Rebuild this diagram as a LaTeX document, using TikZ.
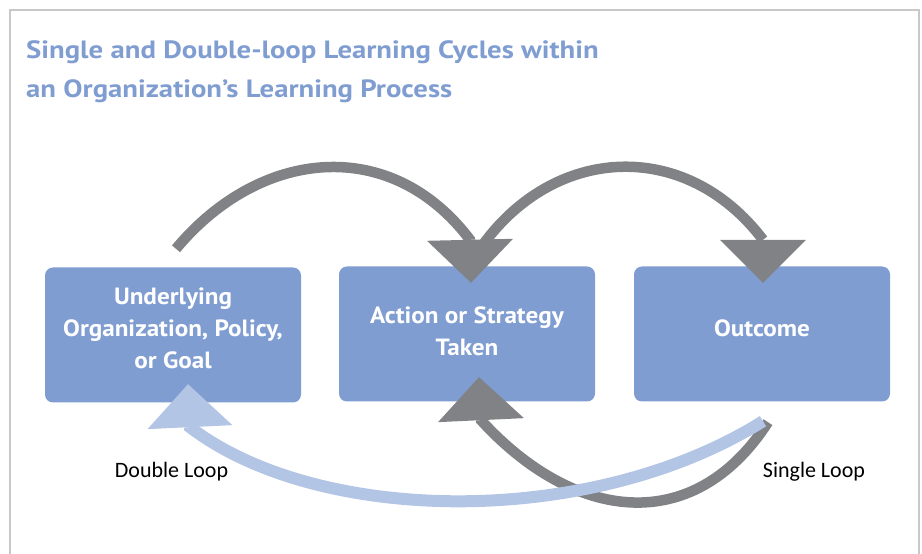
\documentclass[tikz,border=0pt]{standalone}
\usepackage{fontspec}
\setmainfont{PT Sans}
\newfontfamily\titlefont{PT Sans}[FakeStretch=1.15]
\newfontfamily\boxfont{PT Sans}[FakeStretch=1.07]
\newfontfamily\lblfont{Carlito}
\usepackage{tikz}
\usetikzlibrary{arrows.meta,calc}
\definecolor{boxblue}{RGB}{127,157,209}
\definecolor{titleblue}{RGB}{127,157,209}
\definecolor{loopgray}{RGB}{128,130,133}
\definecolor{loopblue}{RGB}{179,197,228}
\definecolor{framegray}{RGB}{200,200,200}
\newcommand{\lift}[1]{\rule[-#1]{0pt}{#1}}

\begin{document}
\begin{tikzpicture}[x=1pt,y=1pt,
    box/.style={fill=boxblue,rounded corners=8pt,minimum width=256pt,minimum height=135pt,inner sep=0pt,align=center,text=white,font=\boxfont\bfseries\fontsize{23.5}{32}\selectfont},
    grayloop/.style={draw=loopgray,line width=10.5pt,-{Triangle[length=43pt,width=86pt,line width=0pt]}},
    blueloop/.style={draw=loopblue,line width=12pt,-{Triangle[length=43pt,width=85pt,line width=0pt]}},
    lbl/.style={font=\lblfont\fontsize{22}{26}\selectfont,inner sep=0pt}]

                    \useasboundingbox (0,0) rectangle (922,554);
                    \draw[framegray,line width=1.2pt] (10,-10) rectangle (919,544);
                    \node[anchor=north west,inner sep=0pt,align=left,text=titleblue,font=\titlefont\bfseries\fontsize{25}{39}\selectfont] (title) at (26,514){Single and Double-loop Learning Cycles within\\an Organization’s Learning Process};

                    \node[box] (goal) at (173,219){Underlying\\Organization, Policy,\\or Goal\lift{13pt}};
                    \node[box] (act) at (467,220){Action or Strategy\\Taken\lift{6pt}};
                    \node[box] (out) at (762,220){Outcome\lift{12pt}};

                    \coordinate (t1) at ($(goal.north)+(3,18.5)$);
                    \coordinate (h1) at ($(act.north)+(4,-16.5)$);
                    \coordinate (t2) at ($(act.north)+(13,17.5)$);
                    \coordinate (h2) at ($(out.north)+(1,-16.5)$);
                    \coordinate (t3) at ($(out.south)+(6,-20.5)$);
                    \coordinate (h3) at ($(act.south)+(12,24.5)$);
                    \coordinate (t4) at ($(out.south)+(1,-19.5)$);
                    \coordinate (h4) at ($(goal.south)+(15,18.5)$);

                    \draw[grayloop] (t1) .. controls (260,406) and (391,419) .. ([shift={(-1,43)}]h1) -- (h1);
                    \draw[grayloop] (t2) .. controls (553,410) and (686,416) .. ([shift={(0,43)}]h2) -- (h2);
                    \draw[grayloop] (t3) .. controls (693,16) and (573,33) .. ([shift={(2,-43)}]h3) -- (h3);
                    \draw[blueloop] (t4) .. controls (591,25) and (318,29) .. ([shift={(2,-43)}]h4) -- (h4);

                    \node[lbl,anchor=base] (dbl) at (171.5,76){Double Loop};
                    \node[lbl,anchor=base] (sgl) at (814,76){Single Loop};

\end{tikzpicture}
\end{document}
